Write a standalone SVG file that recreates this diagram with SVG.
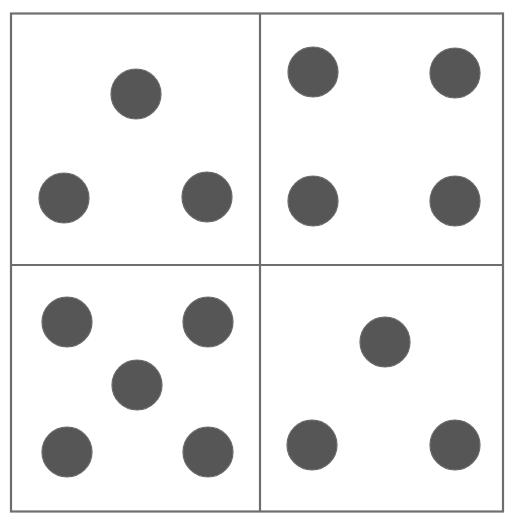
<svg xmlns="http://www.w3.org/2000/svg" width="507" height="515" viewBox="0 0 507 515">
<style>
.frame{fill:none;stroke:#6e6e6e;stroke-width:2.2}
.dot{fill:#565656;stroke:#6a6a6a;stroke-width:1.2}
</style>
<rect width="507" height="515" fill="#ffffff"/>
<g id="connectors">
<rect class="frame" x="11" y="13.5" width="492" height="498"/>
<line class="frame" x1="260" y1="13.5" x2="260" y2="511.5"/>
<line class="frame" x1="11" y1="265" x2="503" y2="265"/>
</g>
<g id="panel-three">
<circle class="dot" cx="136" cy="94" r="25"/>
<circle class="dot" cx="64" cy="198" r="25"/>
<circle class="dot" cx="207" cy="197" r="25"/>
</g>
<g id="panel-four">
<circle class="dot" cx="313" cy="72" r="25"/>
<circle class="dot" cx="455" cy="73" r="25"/>
<circle class="dot" cx="313" cy="201" r="25"/>
<circle class="dot" cx="455" cy="201" r="25"/>
</g>
<g id="panel-five">
<circle class="dot" cx="67" cy="322" r="25"/>
<circle class="dot" cx="208" cy="322" r="25"/>
<circle class="dot" cx="137" cy="385" r="25"/>
<circle class="dot" cx="67" cy="452" r="25"/>
<circle class="dot" cx="208" cy="452" r="25"/>
</g>
<g id="panel-three-b">
<circle class="dot" cx="385" cy="342" r="25"/>
<circle class="dot" cx="312" cy="445" r="25"/>
<circle class="dot" cx="455" cy="445" r="25"/>
</g>
</svg>
